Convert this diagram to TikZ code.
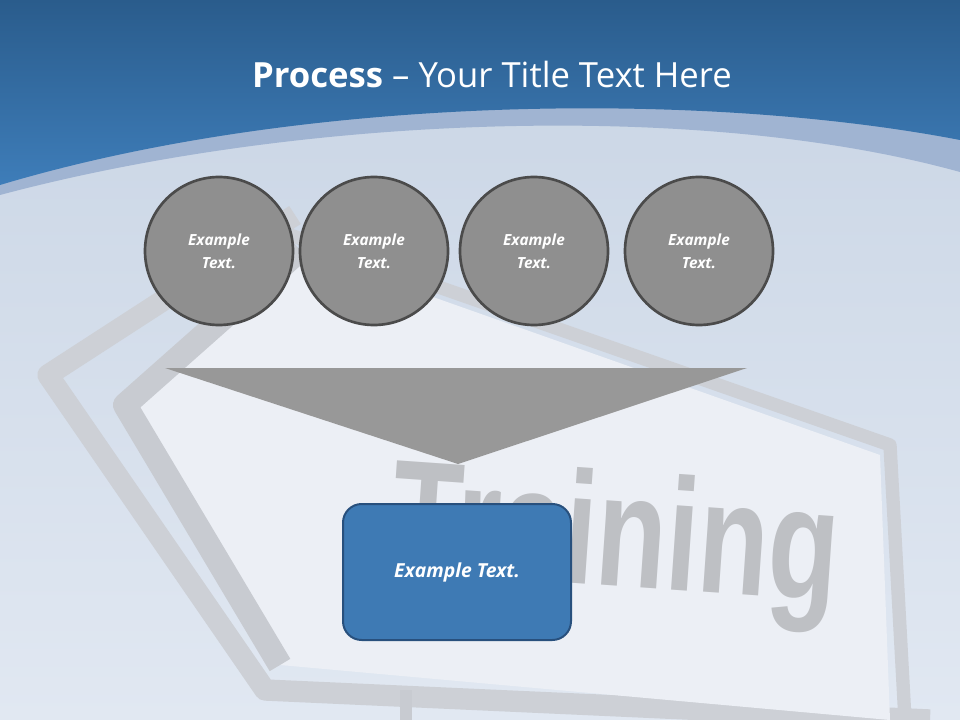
\documentclass[tikz,border=0pt]{standalone}
\usepackage{fontspec}
\setmainfont{Open Sans}
\newfontfamily\signfont{Liberation Sans}
\definecolor{bgtop}{RGB}{200,212,228}
\definecolor{bgbot}{RGB}{225,232,242}
\definecolor{signA}{RGB}{205,208,214}
\definecolor{signB}{RGB}{200,203,209}
\definecolor{signF}{RGB}{236,239,245}
\definecolor{signT}{RGB}{190,192,196}
\definecolor{band}{RGB}{160,180,210}
\definecolor{hdA}{RGB}{42,92,140}
\definecolor{hdB}{RGB}{62,125,185}
\definecolor{cfill}{RGB}{143,143,143}
\definecolor{cdraw}{RGB}{75,75,75}
\definecolor{trif}{RGB}{152,152,152}
\definecolor{bfill}{RGB}{62,122,180}
\definecolor{bdraw}{RGB}{40,80,125}
\begin{document}
\begin{tikzpicture}[x=0.75pt,y=-0.75pt,
  circ/.style={circle,minimum size=148*0.75pt,fill=cfill,draw=cdraw,line width=2pt,text=white,font=\bfseries\itshape\fontsize{11.5}{17}\selectfont,align=center,inner sep=0pt},
  boxst/.style={rounded corners=14pt,fill=bfill,draw=bdraw,line width=1.5pt,text=white,font=\bfseries\itshape\fontsize{14.5}{16}\selectfont,minimum width=228*0.75pt,minimum height=136*0.75pt}]
\useasboundingbox (0,0) rectangle (960,720);
\shade[top color=bgtop,bottom color=bgbot] (0,0) rectangle (960,720);
% sign
\draw[line width=16pt,signA,line join=round] (295,215) -- (48,375) -- (265,690) -- (930,720);
\draw[line width=10pt,signA,line join=round] (290,235) -- (890,445) -- (905,720);
\fill[signF] (300,250) -- (880,455) -- (890,720) -- (280,665) -- (125,405) -- cycle;
\draw[line width=18pt,signB,line join=round] (300,250) -- (125,405) -- (280,665);
\fill[signB] (400,690) rectangle (412,720);
\node[text=signT,font=\signfont\bfseries\fontsize{120}{120}\selectfont,rotate=-4,xscale=0.72] (tr) at (615,545) {Training};
% header
\fill[band] (0,0) -- (960,0) -- (960,172) .. controls (700,100) and (300,115) .. (0,195) -- cycle;
\shade[top color=hdA,bottom color=hdB] (0,0) -- (960,0) -- (960,140) .. controls (700,90) and (300,95) .. (0,185) -- cycle;
\node[text=white,font=\fontsize{26}{30}\selectfont] (title) at (492,75) {\textbf{Process} -- Your Title Text Here};
% circles
\node[circ] (c1) at (219,251) {Example\\Text.};
\node[circ] (c2) at (374,251) {Example\\Text.};
\node[circ] (c3) at (534,251) {Example\\Text.};
\node[circ] (c4) at (699,251) {Example\\Text.};
\fill[trif] (165,368) -- (747,368) -- (458,464) -- cycle;
\node[boxst] (b) at (457,572) {Example Text.};
\end{tikzpicture}
\end{document}
